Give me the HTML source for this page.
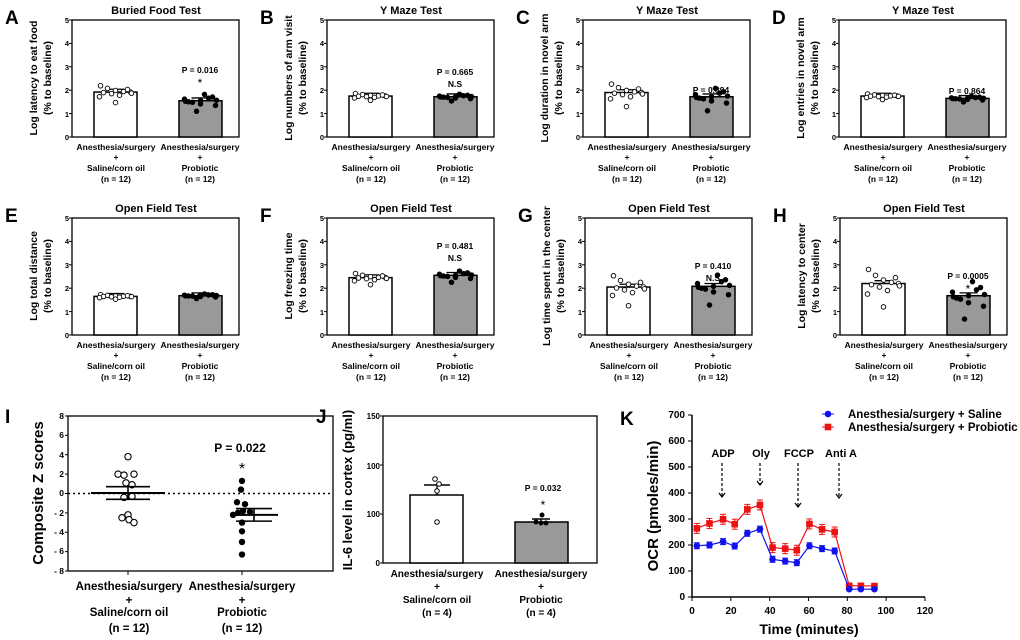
<!DOCTYPE html>
<html><head><meta charset="utf-8"><style>
html,body{margin:0;padding:0;background:#fff;}
svg{display:block;font-family:"Liberation Sans",Arial,sans-serif;font-weight:bold;}
.t{font-size:11px;text-anchor:middle}
.yl{font-size:10.5px;text-anchor:middle}
.tk{font-size:7.5px;text-anchor:end}
.cat{font-size:8.5px;text-anchor:middle}
.L{font-size:19px}
.p{font-size:8.5px;text-anchor:middle}
</style></head><body>
<svg id="s" width="1020" height="640" viewBox="0 0 1020 640" xmlns="http://www.w3.org/2000/svg">
<rect width="1020" height="640" fill="#fff"/>
<g id="pA" transform="translate(0,0)">
<text class="L" x="5" y="24">A</text><text class="t" x="156" y="14">Buried Food Test</text>
<text class="yl" transform="translate(37,78) rotate(-90)">Log latency to eat food</text>
<text class="yl" transform="translate(51,78) rotate(-90)">(% to baseline)</text>
<text class="p" x="200" y="73">P = 0.016</text><text class="p" x="200" y="87" style="font-size:12px;font-weight:normal">*</text>
</g>
<g id="pB" transform="translate(255,0)">
<text class="L" x="5" y="24">B</text><text class="t" x="156" y="14">Y  Maze Test</text>
<text class="yl" transform="translate(37,78) rotate(-90)">Log numbers of arm visit</text>
<text class="yl" transform="translate(51,78) rotate(-90)">(% to baseline)</text>
<text class="p" x="200" y="75">P = 0.665</text><text class="p" x="200" y="87">N.S</text>
</g>
<g id="pC" transform="translate(511,0)">
<text class="L" x="5" y="24">C</text><text class="t" x="156" y="14">Y  Maze Test</text>
<text class="yl" transform="translate(37,78) rotate(-90)">Log duration in novel arm</text>
<text class="yl" transform="translate(51,78) rotate(-90)">(% to baseline)</text>
<text class="p" x="200" y="93">P = 0.894</text><text class="p" x="200" y="104">N.S</text>
</g>
<g id="pD" transform="translate(767,0)">
<text class="L" x="5" y="24">D</text><text class="t" x="156" y="14">Y  Maze Test</text>
<text class="yl" transform="translate(37,78) rotate(-90)">Log entries in novel arm</text>
<text class="yl" transform="translate(51,78) rotate(-90)">(% to baseline)</text>
<text class="p" x="200" y="94">P = 0.864</text><text class="p" x="200" y="105">N.S</text>
</g>
<g id="pE" transform="translate(0,198)">
<text class="L" x="5" y="24">E</text><text class="t" x="156" y="14">Open Field Test</text>
<text class="yl" transform="translate(37,78) rotate(-90)">Log total distance</text>
<text class="yl" transform="translate(51,78) rotate(-90)">(% to baseline)</text>
<text class="p" x="200" y="101">P = 0.551</text>
</g>
<g id="pF" transform="translate(255,198)">
<text class="L" x="5" y="24">F</text><text class="t" x="156" y="14">Open Field Test</text>
<text class="yl" transform="translate(37,78) rotate(-90)">Log freezing time</text>
<text class="yl" transform="translate(51,78) rotate(-90)">(% to baseline)</text>
<text class="p" x="200" y="51">P = 0.481</text><text class="p" x="200" y="63">N.S</text>
</g>
<g id="pG" transform="translate(513,198)">
<text class="L" x="5" y="24">G</text><text class="t" x="156" y="14">Open Field Test</text>
<text class="yl" transform="translate(37,78) rotate(-90)">Log time spent in the center</text>
<text class="yl" transform="translate(51,78) rotate(-90)">(% to baseline)</text>
<text class="p" x="200" y="71">P = 0.410</text><text class="p" x="200" y="83">N.S</text>
</g>
<g id="pH" transform="translate(768,198)">
<text class="L" x="5" y="24">H</text><text class="t" x="156" y="14">Open Field Test</text>
<text class="yl" transform="translate(37,78) rotate(-90)">Log latency to center</text>
<text class="yl" transform="translate(51,78) rotate(-90)">(% to baseline)</text>
<text class="p" x="200" y="81">P = 0.0005</text><text class="p" x="200" y="95" style="font-size:12px;font-weight:normal">*</text>
</g>

<g id="catlabels">
<g transform="translate(0,0)"><text class="cat" x="116" y="150">Anesthesia/surgery</text><text class="cat" x="116" y="160">+</text><text class="cat" x="116" y="171">Saline/corn oil</text><text class="cat" x="116" y="182">(n = 12)</text><text class="cat" x="200" y="150">Anesthesia/surgery</text><text class="cat" x="200" y="160">+</text><text class="cat" x="200" y="171">Probiotic</text><text class="cat" x="200" y="182">(n = 12)</text></g>
<g transform="translate(255,0)"><text class="cat" x="116" y="150">Anesthesia/surgery</text><text class="cat" x="116" y="160">+</text><text class="cat" x="116" y="171">Saline/corn oil</text><text class="cat" x="116" y="182">(n = 12)</text><text class="cat" x="200" y="150">Anesthesia/surgery</text><text class="cat" x="200" y="160">+</text><text class="cat" x="200" y="171">Probiotic</text><text class="cat" x="200" y="182">(n = 12)</text></g>
<g transform="translate(511,0)"><text class="cat" x="116" y="150">Anesthesia/surgery</text><text class="cat" x="116" y="160">+</text><text class="cat" x="116" y="171">Saline/corn oil</text><text class="cat" x="116" y="182">(n = 12)</text><text class="cat" x="200" y="150">Anesthesia/surgery</text><text class="cat" x="200" y="160">+</text><text class="cat" x="200" y="171">Probiotic</text><text class="cat" x="200" y="182">(n = 12)</text></g>
<g transform="translate(767,0)"><text class="cat" x="116" y="150">Anesthesia/surgery</text><text class="cat" x="116" y="160">+</text><text class="cat" x="116" y="171">Saline/corn oil</text><text class="cat" x="116" y="182">(n = 12)</text><text class="cat" x="200" y="150">Anesthesia/surgery</text><text class="cat" x="200" y="160">+</text><text class="cat" x="200" y="171">Probiotic</text><text class="cat" x="200" y="182">(n = 12)</text></g>
<g transform="translate(0,198)"><text class="cat" x="116" y="150">Anesthesia/surgery</text><text class="cat" x="116" y="160">+</text><text class="cat" x="116" y="171">Saline/corn oil</text><text class="cat" x="116" y="182">(n = 12)</text><text class="cat" x="200" y="150">Anesthesia/surgery</text><text class="cat" x="200" y="160">+</text><text class="cat" x="200" y="171">Probiotic</text><text class="cat" x="200" y="182">(n = 12)</text></g>
<g transform="translate(255,198)"><text class="cat" x="116" y="150">Anesthesia/surgery</text><text class="cat" x="116" y="160">+</text><text class="cat" x="116" y="171">Saline/corn oil</text><text class="cat" x="116" y="182">(n = 12)</text><text class="cat" x="200" y="150">Anesthesia/surgery</text><text class="cat" x="200" y="160">+</text><text class="cat" x="200" y="171">Probiotic</text><text class="cat" x="200" y="182">(n = 12)</text></g>
<g transform="translate(513,198)"><text class="cat" x="116" y="150">Anesthesia/surgery</text><text class="cat" x="116" y="160">+</text><text class="cat" x="116" y="171">Saline/corn oil</text><text class="cat" x="116" y="182">(n = 12)</text><text class="cat" x="200" y="150">Anesthesia/surgery</text><text class="cat" x="200" y="160">+</text><text class="cat" x="200" y="171">Probiotic</text><text class="cat" x="200" y="182">(n = 12)</text></g>
<g transform="translate(768,198)"><text class="cat" x="116" y="150">Anesthesia/surgery</text><text class="cat" x="116" y="160">+</text><text class="cat" x="116" y="171">Saline/corn oil</text><text class="cat" x="116" y="182">(n = 12)</text><text class="cat" x="200" y="150">Anesthesia/surgery</text><text class="cat" x="200" y="160">+</text><text class="cat" x="200" y="171">Probiotic</text><text class="cat" x="200" y="182">(n = 12)</text></g>
</g>
<g id="ticks">
<g transform="translate(0,0)"><text class="tk" x="69" y="23">5</text><text class="tk" x="69" y="46">4</text><text class="tk" x="69" y="70">3</text><text class="tk" x="69" y="93">2</text><text class="tk" x="69" y="117">1</text><text class="tk" x="69" y="140">0</text></g>
<g transform="translate(255,0)"><text class="tk" x="69" y="23">5</text><text class="tk" x="69" y="46">4</text><text class="tk" x="69" y="70">3</text><text class="tk" x="69" y="93">2</text><text class="tk" x="69" y="117">1</text><text class="tk" x="69" y="140">0</text></g>
<g transform="translate(511,0)"><text class="tk" x="69" y="23">5</text><text class="tk" x="69" y="46">4</text><text class="tk" x="69" y="70">3</text><text class="tk" x="69" y="93">2</text><text class="tk" x="69" y="117">1</text><text class="tk" x="69" y="140">0</text></g>
<g transform="translate(767,0)"><text class="tk" x="69" y="23">5</text><text class="tk" x="69" y="46">4</text><text class="tk" x="69" y="70">3</text><text class="tk" x="69" y="93">2</text><text class="tk" x="69" y="117">1</text><text class="tk" x="69" y="140">0</text></g>
<g transform="translate(0,198)"><text class="tk" x="69" y="23">5</text><text class="tk" x="69" y="46">4</text><text class="tk" x="69" y="70">3</text><text class="tk" x="69" y="93">2</text><text class="tk" x="69" y="117">1</text><text class="tk" x="69" y="140">0</text></g>
<g transform="translate(255,198)"><text class="tk" x="69" y="23">5</text><text class="tk" x="69" y="46">4</text><text class="tk" x="69" y="70">3</text><text class="tk" x="69" y="93">2</text><text class="tk" x="69" y="117">1</text><text class="tk" x="69" y="140">0</text></g>
<g transform="translate(513,198)"><text class="tk" x="69" y="23">5</text><text class="tk" x="69" y="46">4</text><text class="tk" x="69" y="70">3</text><text class="tk" x="69" y="93">2</text><text class="tk" x="69" y="117">1</text><text class="tk" x="69" y="140">0</text></g>
<g transform="translate(768,198)"><text class="tk" x="69" y="23">5</text><text class="tk" x="69" y="46">4</text><text class="tk" x="69" y="70">3</text><text class="tk" x="69" y="93">2</text><text class="tk" x="69" y="117">1</text><text class="tk" x="69" y="140">0</text></g>
</g>

<g id="pI">
<text class="L" x="5" y="423">I</text>
<text style="font-size:15px;text-anchor:middle" transform="translate(43,493) rotate(-90)">Composite Z scores</text>
<g style="font-size:8.5px;text-anchor:end">
<text x="64" y="419">8</text><text x="64" y="438">6</text><text x="64" y="458">4</text><text x="64" y="477">2</text><text x="64" y="496">0</text><text x="64" y="516">- 2</text><text x="64" y="535">- 4</text><text x="64" y="554">- 6</text><text x="64" y="574">- 8</text></g>
<text style="font-size:12px;text-anchor:middle" x="240" y="452">P = 0.022</text>
<text style="font-size:16px;text-anchor:middle;font-weight:normal" x="242" y="474">*</text>
<g style="font-size:11.5px;text-anchor:middle">
<text x="129" y="590">Anesthesia/surgery</text><text x="129" y="604">+</text><text x="129" y="616">Saline/corn oil</text><text x="129" y="632">(n = 12)</text>
<text x="242" y="590">Anesthesia/surgery</text><text x="242" y="604">+</text><text x="242" y="616">Probiotic</text><text x="242" y="632">(n = 12)</text></g>
</g>
<g id="pJ">
<text class="L" x="316" y="423">J</text>
<text style="font-size:13px;text-anchor:middle" transform="translate(352,490) rotate(-90)">IL-6 level in cortex (pg/ml)</text>
<g style="font-size:8px;text-anchor:end">
<text x="380" y="419">150</text><text x="380" y="469">100</text><text x="380" y="517">100</text><text x="380" y="566">0</text></g>
<text class="p" x="543" y="491">P = 0.032</text>
<text style="font-size:12px;text-anchor:middle;font-weight:normal" x="543" y="509">*</text>
<g style="font-size:10px;text-anchor:middle">
<text x="437" y="577">Anesthesia/surgery</text><text x="437" y="590">+</text><text x="437" y="603">Saline/corn oil</text><text x="437" y="616">(n = 4)</text>
<text x="541" y="577">Anesthesia/surgery</text><text x="541" y="590">+</text><text x="541" y="603">Probiotic</text><text x="541" y="616">(n = 4)</text></g>
</g>
<g id="pK">
<text class="L" x="620" y="425">K</text>
<text style="font-size:15px;text-anchor:middle" transform="translate(658,506) rotate(-90)">OCR (pmoles/min)</text>
<g style="font-size:10px;text-anchor:end">
<text x="685" y="418">700</text><text x="685" y="444">600</text><text x="685" y="470">500</text><text x="685" y="496">400</text><text x="685" y="522">300</text><text x="685" y="548">200</text><text x="685" y="574">100</text><text x="685" y="600">0</text></g>
<g style="font-size:10px;text-anchor:middle">
<text x="692" y="614">0</text><text x="731" y="614">20</text><text x="770" y="614">40</text><text x="809" y="614">60</text><text x="847" y="614">80</text><text x="886" y="614">100</text><text x="925" y="614">120</text></g>
<text style="font-size:14px;text-anchor:middle" x="809" y="634">Time (minutes)</text>
<g style="font-size:11px;text-anchor:middle">
<text x="723" y="457">ADP</text><text x="761" y="457">Oly</text><text x="799" y="457">FCCP</text><text x="841" y="457">Anti A</text></g>
<g style="font-size:11.5px">
<text x="848" y="418">Anesthesia/surgery + Saline</text>
<text x="848" y="431">Anesthesia/surgery + Probiotic</text></g>
</g>
<g id="shapes"></g>
</svg>
<script>
var NS="http://www.w3.org/2000/svg",G=document.getElementById("shapes");
function el(t,a){var e=document.createElementNS(NS,t);for(var k in a)e.setAttribute(k,a[k]);G.appendChild(e);return e;}
var off=[[0,0],[255,0],[511,0],[767,0],[0,198],[255,198],[513,198],[768,198]];
var vals=[[1.92,1.55,0.45],[1.75,1.72,0.18],[1.9,1.72,0.6],[1.75,1.65,0.15],[1.65,1.68,0.12],[2.45,2.55,0.3],[2.05,2.08,0.8],[2.2,1.68,1.0]];
var F=[0.6,0.35,0.15,0.05,0,-0.05,-0.15,-0.3,0.25,-0.45,-0.1,-1];
var XO=[-15,-8,0,8,15,-12,-4,4,12,-16,16,0];
for(var p=0;p<8;p++){var ox=off[p][0],oy=off[p][1];
 var Y=function(v){return oy+137-v*23.4;};
 el("rect",{x:ox+72,y:oy+20,width:167,height:117,fill:"none",stroke:"#000","stroke-width":1.3});
 for(var i=0;i<=5;i++)el("line",{x1:ox+69,x2:ox+72,y1:Y(i),y2:Y(i),stroke:"#000"});
 [[94,"#fff",vals[p][0]],[179,"#999",vals[p][1]]].forEach(function(b,j){
  var v=b[2];el("rect",{x:ox+b[0],y:Y(v),width:43,height:v*23.4,fill:b[1],stroke:"#000","stroke-width":1.5});
  var cx=ox+b[0]+21.5,e=0.12;
  el("line",{x1:cx,x2:cx,y1:Y(v),y2:Y(v+e),stroke:"#000"});
  el("line",{x1:cx-9,x2:cx+9,y1:Y(v+e),y2:Y(v+e),stroke:"#000","stroke-width":1.3});
  var sp=vals[p][2];
  for(var k=0;k<12;k++){var kk=(k+j*5)%12;
   el("circle",{cx:cx+XO[k],cy:Y(v+F[kk]*sp),r:2.3,fill:j?"#000":"#fff",stroke:"#000","stroke-width":0.9});}
 });
}
el("rect",{x:68,y:416,width:265,height:155,fill:"none",stroke:"#000","stroke-width":1.3});
function YI(v){return 493.5-v*9.69;}
for(var v=-8;v<=8;v+=2)el("line",{x1:65,x2:68,y1:YI(v),y2:YI(v),stroke:"#000"});
el("line",{x1:128,x2:128,y1:571,y2:575,stroke:"#000"});el("line",{x1:242,x2:242,y1:571,y2:575,stroke:"#000"});
el("line",{x1:68,x2:333,y1:YI(0),y2:YI(0),stroke:"#000","stroke-width":1.5,"stroke-dasharray":"2,3"});
[[3.8,128],[2,118],[1.9,124],[2,134],[1.1,126],[0.9,132],[-0.4,124],[-0.3,132],[-2.2,128],[-2.5,122],[-2.7,129],[-3,134]].forEach(function(d){el("circle",{cx:d[1],cy:YI(d[0]),r:3.2,fill:"#fff",stroke:"#000","stroke-width":1.1});});
[[1.3,242],[0.4,241],[-0.9,237],[-1.1,245],[-1.8,243],[-2,238],[-1.9,250],[-2.2,233],[-3,242],[-3.9,242],[-5,242],[-6.3,242]].forEach(function(d){el("circle",{cx:d[1],cy:YI(d[0]),r:3.2,fill:"#000"});});
[[128,0.05,0.65,37,28],[254,-2.2,0.65,24,24]].forEach(function(m){
 el("line",{x1:m[0]-m[3],x2:m[0]+m[3],y1:YI(m[1]),y2:YI(m[1]),stroke:"#000","stroke-width":2});
 el("line",{x1:m[0]-m[4]+6,x2:m[0]+m[4]-6,y1:YI(m[1]+m[2]),y2:YI(m[1]+m[2]),stroke:"#000","stroke-width":1.6});
 el("line",{x1:m[0]-m[4]+6,x2:m[0]+m[4]-6,y1:YI(m[1]-m[2]),y2:YI(m[1]-m[2]),stroke:"#000","stroke-width":1.6});
 el("line",{x1:m[0],x2:m[0],y1:YI(m[1]+m[2]),y2:YI(m[1]-m[2]),stroke:"#000","stroke-width":1.6});});
el("rect",{x:383,y:416,width:214,height:147,fill:"none",stroke:"#000","stroke-width":1.3});
[416,465,514,563].forEach(function(y){el("line",{x1:380,x2:383,y1:y,y2:y,stroke:"#000"});});
el("rect",{x:410,y:495,width:53,height:68,fill:"#fff",stroke:"#000","stroke-width":1.5});
el("rect",{x:515,y:522,width:53,height:41,fill:"#999",stroke:"#000","stroke-width":1.5});
el("line",{x1:437,x2:437,y1:495,y2:485,stroke:"#000","stroke-width":1.3});el("line",{x1:424,x2:450,y1:485,y2:485,stroke:"#000","stroke-width":1.5});
el("line",{x1:541,x2:541,y1:522,y2:519,stroke:"#000","stroke-width":1.3});el("line",{x1:532,x2:550,y1:519,y2:519,stroke:"#000","stroke-width":1.5});
[[435,479],[439,484],[437,491],[437,522]].forEach(function(d){el("circle",{cx:d[0],cy:d[1],r:2.3,fill:"#fff",stroke:"#000"});});
[[542,515],[536,522],[541,523],[546,523]].forEach(function(d){el("circle",{cx:d[0],cy:d[1],r:2.5,fill:"#000"});});
el("line",{x1:692,x2:692,y1:415,y2:597,stroke:"#000","stroke-width":1.5});
el("line",{x1:692,x2:925,y1:597,y2:597,stroke:"#000","stroke-width":1.5});
for(var i=0;i<=7;i++)el("line",{x1:688,x2:692,y1:597-i*26,y2:597-i*26,stroke:"#000"});
for(var i=0;i<=6;i++)el("line",{x1:692+i*38.83,x2:692+i*38.83,y1:597,y2:601,stroke:"#000"});
var T=[2.5,9,16,22,28.5,35,41.5,48,54,60.5,67,73.5,81,87,94];
var B=[197,200,213,196,245,261,145,138,132,197,186,177,30,30,30];
var R=[264,283,299,280,337,354,190,186,180,281,260,250,43,43,42];
function KX(t){return 692+t*1.941;}function KY(v){return 597-v*0.26;}
function series(D,c,sq,err){var pts=T.map(function(t,i){return KX(t)+","+KY(D[i]);}).join(" ");
 el("polyline",{points:pts,fill:"none",stroke:c,"stroke-width":1.2});
 T.forEach(function(t,i){var x=KX(t),y=KY(D[i]);
  if(err&&i<12){var e=err;el("line",{x1:x,x2:x,y1:y-e,y2:y+e,stroke:c});el("line",{x1:x-3,x2:x+3,y1:y-e,y2:y-e,stroke:c});el("line",{x1:x-3,x2:x+3,y1:y+e,y2:y+e,stroke:c});}
  if(sq)el("rect",{x:x-3.3,y:y-3.3,width:6.6,height:6.6,fill:c});else el("circle",{cx:x,cy:y,r:3.3,fill:c});});}
series(R,"#ee1111",true,5);series(B,"#1111ee",false,3);
[[722,463,497],[760,463,485],[798,463,507],[839,463,498]].forEach(function(a){
 el("line",{x1:a[0],x2:a[0],y1:a[1],y2:a[2],stroke:"#000","stroke-width":1.2,"stroke-dasharray":"3,2"});
 el("polyline",{points:(a[0]-3)+","+(a[2]-4)+" "+a[0]+","+a[2]+" "+(a[0]+3)+","+(a[2]-4),fill:"none",stroke:"#000","stroke-width":1.2});});
el("line",{x1:822,x2:834,y1:414,y2:414,stroke:"#1111ee"});el("circle",{cx:828,cy:414,r:3.3,fill:"#1111ee"});
el("line",{x1:822,x2:834,y1:427,y2:427,stroke:"#ee1111"});el("rect",{x:824.7,y:423.7,width:6.6,height:6.6,fill:"#ee1111"});
</script>
</body></html>
